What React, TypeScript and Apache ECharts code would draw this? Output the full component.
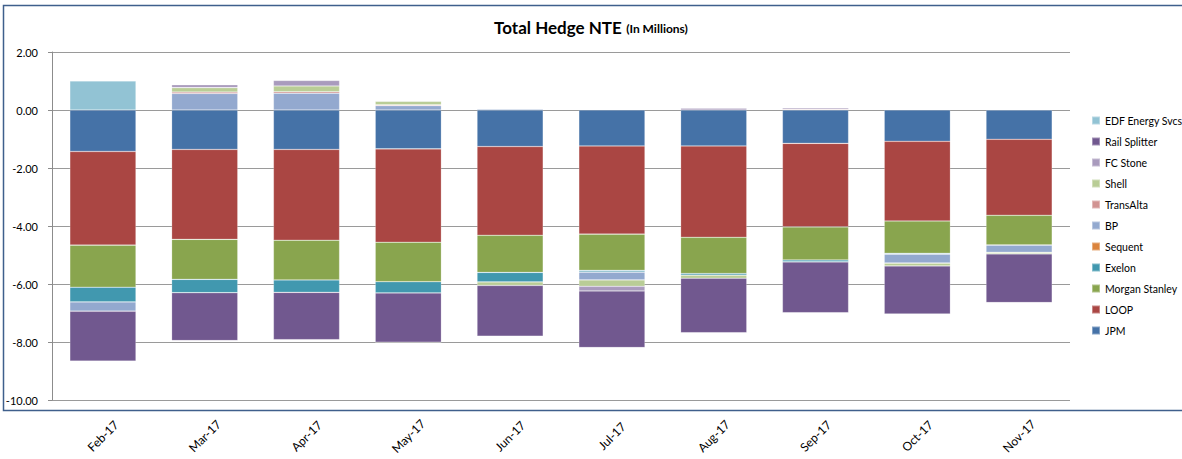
import React, { useEffect, useRef } from "react";
import * as echarts from "echarts";

const categories = ["Feb-17", "Mar-17", "Apr-17", "May-17", "Jun-17", "Jul-17", "Aug-17", "Sep-17", "Oct-17", "Nov-17"];

const jpm = [-1.43, -1.36, -1.36, -1.34, -1.26, -1.24, -1.24, -1.15, -1.08, -1.01];
const loop = [-3.23, -3.1, -3.13, -3.22, -3.06, -3.04, -3.15, -2.88, -2.75, -2.62];
const morganStanley = [-1.45, -1.38, -1.37, -1.36, -1.28, -1.25, -1.25, -1.14, -1.11, -1.03];
const exelon = [-0.51, -0.46, -0.43, -0.39, -0.33, -0.06, -0.06, -0.07, -0.03, 0];
const sequent = [0, 0, 0, 0, 0, 0, 0, 0, 0, 0];
const bp = [-0.32, 0.57, 0.58, 0.15, 0.04, -0.27, 0, 0, -0.31, -0.25];
const transAlta = [0, 0.05, 0.05, 0.03, 0, 0, 0, 0.03, 0, 0];
const shell = [0, 0.15, 0.2, 0.12, -0.12, -0.22, -0.1, 0, -0.1, -0.05];
const fcStone = [0, 0.1, 0.19, 0, 0.02, -0.16, 0.06, 0.05, 0, 0.02];
const railSplitter = [-1.72, -1.65, -1.63, -1.7, -1.75, -1.95, -1.88, -1.75, -1.66, -1.68];
const edfEnergySvcs = [1.0, 0, 0, 0, 0, 0, 0, 0, 0, 0];

const yTicks = { min: -10, max: 2, interval: 2 };

const seriesDefs: { name: string; data: number[]; color: string }[] = [
  { name: "JPM", data: jpm, color: "#4572A7" },
  { name: "LOOP", data: loop, color: "#AA4643" },
  { name: "Morgan Stanley", data: morganStanley, color: "#89A54E" },
  { name: "Exelon", data: exelon, color: "#4198AF" },
  { name: "Sequent", data: sequent, color: "#DB843D" },
  { name: "BP", data: bp, color: "#93A9CF" },
  { name: "TransAlta", data: transAlta, color: "#D19392" },
  { name: "Shell", data: shell, color: "#B9CD96" },
  { name: "FC Stone", data: fcStone, color: "#A99BBD" },
  { name: "Rail Splitter", data: railSplitter, color: "#71588F" },
  { name: "EDF Energy Svcs", data: edfEnergySvcs, color: "#92C3D4" },
];

const FONT = "Lato, 'Open Sans', sans-serif";

export default function App() {
  const ref = useRef<HTMLDivElement>(null);

  useEffect(() => {
    if (!ref.current) return;
    const chart = echarts.init(ref.current, undefined, { renderer: "svg" });
    chart.setOption({
      animation: false,
      backgroundColor: "#ffffff",
      textStyle: { fontFamily: FONT },
      title: {
        left: "center",
        top: 13,
        text: "{a|Total Hedge NTE} {b|(In Millions)}",
        textStyle: {
          rich: {
            a: { fontFamily: FONT, fontWeight: "bold", fontSize: 17, color: "#000" },
            b: { fontFamily: FONT, fontWeight: "bold", fontSize: 12, color: "#000", padding: [3, 0, 0, 0] },
          },
        },
      },
      graphic: [
        {
          type: "rect",
          z: -10,
          silent: true,
          shape: { x: 3.5, y: 5.5, width: 1200, height: 405 },
          style: { fill: "none", stroke: "#3F5F8C", lineWidth: 1.5 },
        },
      ],
      legend: {
        orient: "vertical",
        left: 1086,
        top: 109,
        itemWidth: 8,
        itemHeight: 8,
        itemGap: 8,
        icon: "rect",
        data: [...seriesDefs].reverse().map((s) => s.name),
        textStyle: { fontFamily: FONT, fontSize: 10.5, color: "#000", lineHeight: 13 },
      },
      grid: { left: 52, right: 112, top: 52, bottom: 59, containLabel: false },
      xAxis: {
        type: "category",
        data: categories,
        axisLine: { show: false },
        axisTick: { show: false },
        axisLabel: {
          rotate: 45,
          interval: 0,
          margin: 36,
          align: "center",
          verticalAlign: "middle",
          fontFamily: FONT,
          fontSize: 12,
          color: "#000",
        },
      },
      yAxis: {
        type: "value",
        min: yTicks.min,
        max: yTicks.max,
        interval: yTicks.interval,
        axisLine: { show: true, lineStyle: { color: "#8C8C8C", width: 1 } },
        axisTick: { show: true, length: 4, lineStyle: { color: "#8C8C8C" } },
        splitLine: { show: true, lineStyle: { color: "#9A9A9A", width: 1 } },
        axisLabel: {
          margin: 14,
          fontFamily: FONT,
          fontSize: 11,
          color: "#000",
          formatter: (v: number) => v.toFixed(2),
        },
      },
      series: seriesDefs.map((s) => ({
        name: s.name,
        type: "bar",
        stack: "total",
        barWidth: "65%",
        data: s.data,
        itemStyle: { color: s.color, borderColor: "rgba(255,255,255,0.35)", borderWidth: 0.6 },
      })),
    });
    return () => chart.dispose();
  }, []);

  return (
    <div
      ref={ref}
      style={{ position: "absolute", left: 0, top: 0, width: 1182, height: 459 }}
    />
  );
}
